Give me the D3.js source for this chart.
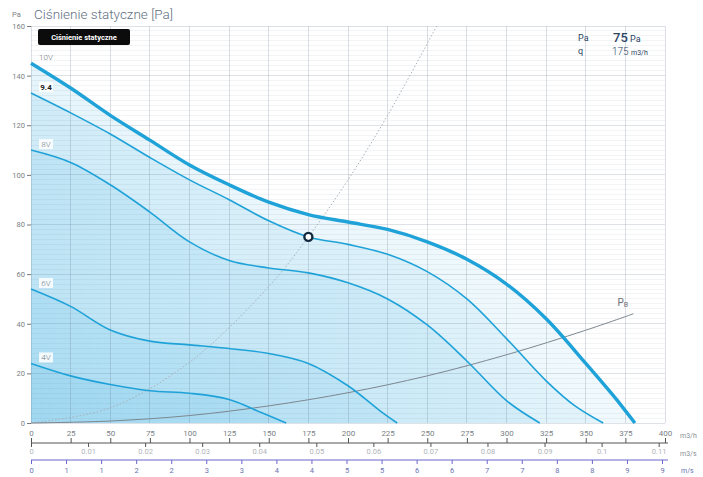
<!DOCTYPE html>
<html>
<head>
<meta charset="utf-8">
<script src="https://cdn.jsdelivr.net/npm/d3@7"></script>
<style>
  body { margin: 0; background: #fff; }
  svg { display: block; font-family: Roboto, sans-serif; }
</style>
</head>
<body>
<div id="chart"></div>
<script>
// data
const flowTicks = [0, 25, 50, 75, 100, 125, 150, 175, 200, 225, 250, 275, 300, 325, 350, 375, 400];
const flowSecTicks = [0, 0.01, 0.02, 0.03, 0.04, 0.05, 0.06, 0.07, 0.08, 0.09, 0.1, 0.11];
const speedTicks = [0, 0.5, 1, 1.5, 2, 2.5, 3, 3.5, 4, 4.5, 5, 5.5, 6, 6.5, 7, 7.5, 8, 8.5, 9];
const pressureTicks = [0, 20, 40, 60, 80, 100, 120, 140, 160];

const curveNames = ['10V', '9.4', '8V', '6V', '4V'];
const curve10V = [[0, 145], [25, 135], [50, 124], [75, 114], [100, 104], [125, 96], [150, 89], [175, 84], [200, 81], [225, 78], [250, 73], [275, 66], [300, 56], [325, 42], [350, 24], [370, 9], [381, 0]];
const curve94 = [[0, 133], [25, 125], [50, 116.5], [75, 107], [100, 98], [125, 90], [150, 81.5], [175, 75], [200, 72], [225, 68], [250, 61], [275, 50], [300, 34], [325, 17], [343, 7], [361, 0]];
const curve8V = [[0, 110], [25, 105], [50, 96], [75, 85], [100, 73], [125, 65.5], [150, 62.5], [175, 60.5], [200, 56.5], [225, 50], [250, 39.5], [275, 25], [300, 9], [321, 0]];
const curve6V = [[0, 54], [25, 47], [50, 37.5], [75, 33], [100, 31.5], [125, 30], [150, 28], [175, 24], [200, 15], [220, 5], [231, 0]];
const curve4V = [[0, 24], [25, 19], [50, 15.5], [75, 13], [100, 12], [125, 9.5], [146, 4], [161, 0]];
const curves = [curve10V, curve94, curve8V, curve6V, curve4V];

const systemCurve = [[0, 0], [50, 0.8], [100, 3], [150, 6.9], [200, 12.2], [250, 19], [300, 27.5], [350, 37.4], [380, 44]];
const pointCurve = [[0, 0], [50, 6.1], [100, 24.5], [150, 55], [175, 75], [200, 98], [225, 124], [256, 160]];
const workPoint = [175, 75];

const width = 703, height = 477;
const blue = '#1fa2d8';

const svg = d3.select('#chart').append('svg')
    .attr('width', width)
    .attr('height', height);

// scales
const x = d3.scaleLinear().domain([0, 400]).range([31, 665]);
const y = d3.scaleLinear().domain([0, 160]).range([423, 26]);
const xs = d3.scaleLinear().domain([0, 0.11]).range([x(0), x(0.11 * 3600)]);
const xv = d3.scaleLinear().domain([0, 9]).range([31, 662]);

const defs = svg.append('defs');
const grad = defs.append('linearGradient').attr('id', 'fillGrad')
    .attr('gradientUnits', 'userSpaceOnUse')
    .attr('x1', x(0)).attr('x2', x(400))
    .attr('y1', 0).attr('y2', 0);
grad.append('stop').attr('offset', 0).attr('stop-color', '#55b9e6').attr('stop-opacity', 0.15);
grad.append('stop').attr('offset', 1).attr('stop-color', '#55b9e6').attr('stop-opacity', 0.08);

const smooth = d3.curveCatmullRom.alpha(0.5);

// areas under the curves
const area = d3.area()
    .curve(smooth)
    .x(d => x(d[0]))
    .y0(y(0))
    .y1(d => y(d[1]));

svg.append('g').selectAll('path')
    .data(curves)
    .join('path')
    .attr('d', area)
    .attr('fill', 'url(#fillGrad)');

// grid
const grid = svg.append('g').attr('class', 'grid');
grid.selectAll('.h')
    .data(d3.range(0, 161, 2))
    .join('line')
    .attr('x1', x(0)).attr('x2', x(400))
    .attr('y1', d => y(d)).attr('y2', d => y(d))
    .attr('stroke', d => d % 20 === 0 ? 'rgba(90,110,130,0.2)' : 'rgba(90,110,130,0.08)')
    .attr('stroke-width', 1)
    .attr('shape-rendering', 'crispEdges');
grid.selectAll('.v')
    .data(flowTicks)
    .join('line')
    .attr('x1', d => x(d)).attr('x2', d => x(d))
    .attr('y1', y(0)).attr('y2', y(160))
    .attr('stroke', 'rgba(90,110,130,0.22)')
    .attr('shape-rendering', 'crispEdges');

// system curve and working point curve
const line = d3.line()
    .curve(smooth)
    .x(d => x(d[0]))
    .y(d => y(d[1]));

svg.append('path')
    .attr('d', line(pointCurve))
    .attr('fill', 'none')
    .attr('stroke', '#a9b0b6')
    .attr('stroke-width', 1)
    .attr('stroke-dasharray', '1.5,2');

svg.append('path')
    .attr('d', line(systemCurve))
    .attr('fill', 'none')
    .attr('stroke', '#7d8790')
    .attr('stroke-width', 1);

const pb = svg.append('text')
    .attr('x', x(370))
    .attr('y', y(47))
    .attr('fill', '#6a7078')
    .style('font-size', '10px')
    .text('P');
pb.append('tspan').attr('dy', 1).style('font-size', '7px').text('B');

// fan curves
svg.append('g').selectAll('path')
    .data(curves)
    .join('path')
    .attr('d', line)
    .attr('fill', 'none')
    .attr('stroke', blue)
    .attr('stroke-width', (d, i) => i === 0 ? 3.4 : 1.6);

// curve labels
const labels = svg.append('g').selectAll('g')
    .data(curves)
    .join('g')
    .attr('transform', d => `translate(${x(0) + 14}, ${y(d[0][1]) - 6})`);
labels.append('rect')
    .attr('x', -6).attr('y', -5)
    .attr('width', 14).attr('height', 10)
    .attr('fill', (d, i) => i === 0 ? 'none' : 'rgba(255,255,255,0.85)');
labels.append('text')
    .attr('text-anchor', 'middle')
    .attr('dy', '0.35em')
    .attr('x', 1)
    .attr('fill', (d, i) => i === 1 ? '#222' : '#707880')
    .style('font-size', '8px')
    .style('font-weight', (d, i) => i === 1 ? 700 : 300)
    .text((d, i) => curveNames[i]);

// working point
svg.append('circle')
    .attr('cx', x(workPoint[0]))
    .attr('cy', y(workPoint[1]))
    .attr('r', 4)
    .attr('fill', '#fff')
    .attr('stroke', '#13273d')
    .attr('stroke-width', 2.4);

// y axis
const yAxis = svg.append('g')
    .attr('transform', `translate(${x(0)},0)`)
    .call(d3.axisLeft(y).tickValues(pressureTicks).tickSize(4).tickPadding(2));
yAxis.select('.domain').remove();
yAxis.selectAll('line').attr('stroke', '#777');
yAxis.selectAll('text').attr('fill', '#7a7f85').style('font-size', '7.5px').style('font-family', 'Roboto');

svg.append('text')
    .attr('x', 12).attr('y', 17)
    .attr('fill', '#7a7f85')
    .style('font-size', '7.5px')
    .text('Pa');

// title
svg.append('text')
    .attr('x', 34).attr('y', 19)
    .attr('fill', '#5f7082')
    .style('font-size', '13.5px')
    .style('font-weight', 300)
    .text('Ciśnienie statyczne [Pa]');

svg.append('rect')
    .attr('x', 38).attr('y', 29)
    .attr('width', 92).attr('height', 16)
    .attr('rx', 2)
    .attr('fill', '#0c0c0c');
svg.append('text')
    .attr('x', 84).attr('y', 40)
    .attr('text-anchor', 'middle')
    .attr('fill', '#fff')
    .style('font-size', '7.5px')
    .style('font-weight', 700)
    .text('Ciśnienie statyczne');

// working point legend
const legend = svg.append('g').attr('fill', '#2c4463');
legend.append('text').attr('x', 578).attr('y', 41).style('font-size', '9px').text('Pa');
legend.append('text').attr('x', 613).attr('y', 42).style('font-size', '13px').style('font-weight', 500).text(workPoint[1]);
legend.append('text').attr('x', 630).attr('y', 42).style('font-size', '9px').text('Pa');
legend.append('text').attr('x', 578).attr('y', 54).style('font-size', '9px').text('q');
legend.append('text').attr('x', 612).attr('y', 55).style('font-size', '10px').style('font-weight', 300).text(workPoint[0]);
legend.append('text').attr('x', 631).attr('y', 55).style('font-size', '7px').text('m3/h');

// bottom axes
const axisY1 = 443, axisY2 = 460;

const flowAxis = svg.append('g')
    .attr('transform', `translate(0,${axisY1})`)
    .call(d3.axisTop(x).tickValues(flowTicks).tickSize(5).tickSizeOuter(0).tickPadding(2));
flowAxis.select('.domain').attr('stroke', '#555').attr('d', `M${x(0)},0H${x(400) + 3}`);
flowAxis.selectAll('line').attr('stroke', '#555');
flowAxis.selectAll('text').attr('fill', '#7a7f85').style('font-size', '8px').style('font-family', 'Roboto');

const flowSecAxis = svg.append('g')
    .attr('transform', `translate(0,${axisY1})`)
    .call(d3.axisBottom(xs).tickValues(flowSecTicks).tickSize(4).tickPadding(2).tickFormat(d => d === 0 ? '0' : d3.format('.2~f')(d)));
flowSecAxis.select('.domain').remove();
flowSecAxis.selectAll('line').attr('stroke', '#555');
flowSecAxis.selectAll('text').attr('fill', '#b0b4b8').style('font-size', '7.5px').style('font-family', 'Roboto');

const speedAxis = svg.append('g')
    .attr('transform', `translate(0,${axisY2})`)
    .call(d3.axisBottom(xv).tickValues(speedTicks).tickSize(4).tickSizeOuter(0).tickPadding(4));
speedAxis.select('.domain').attr('stroke', '#6b66cc').attr('d', `M${xv(0)},0H${x(400) + 3}`);
speedAxis.selectAll('line').attr('stroke', '#6b66cc');
speedAxis.selectAll('text').attr('fill', '#6a72b0').style('font-size', '7.5px').style('font-family', 'Roboto');

// units
const units = svg.append('g').attr('fill', '#8a8f95').style('font-size', '7px');
units.append('text').attr('x', 680).attr('y', 438).text('m3/h');
units.append('text').attr('x', 680).attr('y', 456).text('m3/s');
units.append('text').attr('x', 681).attr('y', 473).attr('fill', '#6a72b0').text('m/s');
</script>
</body>
</html>
